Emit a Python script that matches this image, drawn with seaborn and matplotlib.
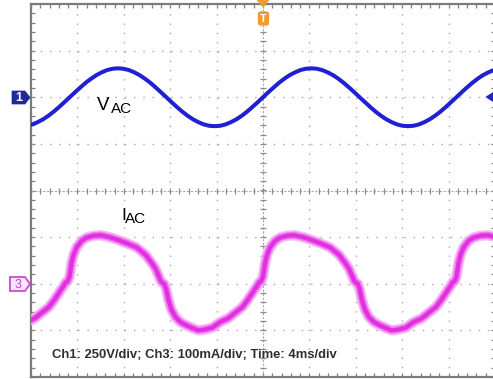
import numpy as np
import pandas as pd
import matplotlib
matplotlib.use("Agg")
import matplotlib.pyplot as plt
import seaborn as sns
from matplotlib.ticker import MultipleLocator
from matplotlib.patches import Polygon, FancyBboxPatch

sns.set_style("white")
plt.rcParams['font.family'] = ['Liberation Sans', 'DejaVu Sans']

# ---------------- data ----------------
# Ch1: line voltage VAC (V), time in ms (trigger at 0)
t_vac = [-20.37, -19.91, -19.44, -18.98, -18.52, -18.06, -17.59, -17.13, -16.67, -16.20,
         -15.74, -15.28, -14.81, -14.35, -13.89, -13.43, -12.96, -12.50, -12.04, -11.57,
         -11.11, -10.65, -10.19, -9.72, -9.26, -8.80, -8.33, -7.87, -7.41, -6.94,
         -6.48, -6.02, -5.56, -5.09, -4.63, -4.17, -3.70, -3.24, -2.78, -2.31,
         -1.85, -1.39, -0.93, -0.46, 0.00, 0.46, 0.93, 1.39, 1.85, 2.31,
         2.78, 3.24, 3.70, 4.17, 4.63, 5.09, 5.56, 6.02, 6.48, 6.94,
         7.41, 7.87, 8.33, 8.80, 9.26, 9.72, 10.19, 10.65, 11.11, 11.57,
         12.04, 12.50, 12.96, 13.43, 13.89, 14.35, 14.81, 15.28, 15.74, 16.20,
         16.67, 17.13, 17.59, 18.06, 18.52, 18.98, 19.44, 19.91, 20.37]
v_ac = [-153, -146, -134, -119, -100, -78, -53, -27,
        0, 27, 53, 78, 100, 119, 134, 146, 153, 155, 153, 146, 134, 119, 100, 78, 53, 27,
        0, -27, -53, -78, -100, -119, -134, -146, -153, -155, -153, -146, -134, -119, -100, -78, -53, -27,
        0, 27, 53, 78, 100, 119, 134, 146, 153, 155, 153, 146, 134, 119, 100, 78, 53, 27,
        0, -27, -53, -78, -100, -119, -134, -146, -153, -155, -153, -146, -134, -119, -100, -78, -53, -27,
        0, 27, 53, 78, 100, 119, 134, 146, 153]

# Ch3: line current IAC (mA)
t_iac = [-20.36, -19.67, -19.07, -18.46, -18.03, -17.60, -17.34, -17.19,
         -17.02, -16.85, -16.68, -16.50, -16.33, -16.07, -15.64, -15.21, -14.61, -14.00,
         -13.23, -12.62, -11.76, -10.90, -10.12, -9.61, -9.26, -9.00, -8.83,
         -8.68, -8.51, -8.34, -8.16, -7.90, -7.56, -7.13, -6.70, -6.09, -5.58,
         -4.97, -4.37, -3.68, -2.99, -2.39, -1.78, -1.35, -0.92, -0.66, -0.51,
         -0.34, -0.17, 0.00, 0.18, 0.35, 0.61, 1.04, 1.47, 2.07, 2.68,
         3.45, 4.06, 4.92, 5.78, 6.56, 7.07, 7.42, 7.68, 7.85,
         8.00, 8.17, 8.34, 8.52, 8.78, 9.12, 9.55, 9.98, 10.59, 11.10,
         11.71, 12.31, 13.00, 13.69, 14.29, 14.90, 15.33, 15.76, 16.02, 16.17,
         16.34, 16.51, 16.68, 16.86, 17.03, 17.29, 17.72, 18.15, 18.75, 19.36, 20.13]
i_ac = [-82, -74, -62, -50, -36, -20, -10, -5,
        3, 5, 15, 45, 62, 78, 92, 99, 103, 104, 100, 95, 87, 78, 62, 45, 32, 17, 7,
        2, 0, -12, -34, -55, -71, -82, -88, -95, -100, -98, -94, -82, -74, -62, -50, -36, -20, -10, -5,
        3, 5, 15, 45, 62, 78, 92, 99, 103, 104, 100, 95, 87, 78, 62, 45, 32, 17, 7,
        2, 0, -12, -34, -55, -71, -82, -88, -95, -100, -98, -94, -82, -74, -62, -50, -36, -20, -10, -5,
        3, 5, 15, 45, 62, 78, 92, 99, 103, 104, 100]

ch1_scale, ch1_pos = 250.0, 2.0      # V/div, divisions
ch3_scale, ch3_pos = 100.0, -2.0     # mA/div, divisions
time_per_div = 4.0                   # ms/div
info_text = "Ch1: 250V/div; Ch3: 100mA/div; Time: 4ms/div"

df_v = pd.DataFrame({"t": t_vac, "y": np.array(v_ac) / ch1_scale + ch1_pos})
df_i = pd.DataFrame({"t": t_iac, "y": np.array(i_ac) / ch3_scale + ch3_pos})

# ---------------- figure ----------------
W, H = 493, 379
fig = plt.figure(figsize=(W / 100, H / 100), dpi=100)
fig.patch.set_facecolor("white")
ax = fig.add_axes([31 / W, 2 / H, 464 / W, 373 / H])
ax.set_xlim(-5 * time_per_div, 5 * time_per_div)
ax.set_ylim(-4, 4)

grid_c = "#a8a8a8"
for gx in [-16, -12, -8, -4, 4, 8, 12, 16]:
    ax.axvline(gx, color=grid_c, lw=1.0, linestyle=(0, (1, 5.68)), zorder=1)
for gy in [-3, -2, -1, 1, 2, 3]:
    ax.axhline(gy, color=grid_c, lw=1.0, linestyle=(0, (1, 5.71)), zorder=1)
# centre cross with minor ticks
ax.axhline(0, color=grid_c, lw=0.8, linestyle=(0, (2, 1.5)), zorder=1)
ax.axvline(0, color=grid_c, lw=0.8, linestyle=(0, (2, 1.5)), zorder=1)
xm = np.arange(-20, 20.01, 0.8)
ym = np.arange(-4, 4.01, 0.2)
ax.plot(xm, np.zeros_like(xm), ls="none", marker="|", ms=4, mew=0.9, mec="#8a8a8a", zorder=1)
ax.plot(np.zeros_like(ym), ym, ls="none", marker="_", ms=4, mew=0.9, mec="#8a8a8a", zorder=1)

# traces
sns.lineplot(data=df_v, x="t", y="y", ax=ax, color="#2020d2", lw=2.9,
             sort=False, estimator=None, zorder=4)
sns.lineplot(data=df_i, x="t", y="y", ax=ax, color="#f6b4f6", lw=7.5, alpha=0.9,
             sort=False, estimator=None, zorder=3)
sns.lineplot(data=df_i, x="t", y="y", ax=ax, color="#ee72ee", lw=5.2, alpha=0.9,
             sort=False, estimator=None, zorder=3)
sns.lineplot(data=df_i, x="t", y="y", ax=ax, color="#e030e0", lw=3.0,
             sort=False, estimator=None, zorder=3)

ax.set_xlabel(""); ax.set_ylabel("")
ax.xaxis.set_major_locator(MultipleLocator(time_per_div))
ax.xaxis.set_minor_locator(MultipleLocator(time_per_div / 5))
ax.yaxis.set_major_locator(MultipleLocator(1))
ax.yaxis.set_minor_locator(MultipleLocator(0.2))
ax.tick_params(which="both", direction="in", length=3, width=0.9, color="#808080",
               top=True, right=True, bottom=True, left=True,
               labelbottom=False, labelleft=False)
for s in ax.spines.values():
    s.set_color("#7c7c7c")
    s.set_linewidth(1.6)
    s.set_visible(True)

# ---------------- scope markers (figure pixel coords) ----------------
def P(x, y):
    return (x / W, 1 - y / H)

def poly(pts, **kw):
    fig.patches.append(Polygon([P(*p) for p in pts], closed=True,
                               transform=fig.transFigure, **kw))

poly([(12, 91), (25, 91), (30, 97.5), (25, 104), (12, 104)], facecolor="#1f2a9c", edgecolor="#1f2a9c", lw=0.5)
fig.text(*P(18.5, 98), "1", color="white", fontsize=9, weight="bold", ha="center", va="center")

poly([(10, 277), (25, 277), (30, 284), (25, 291), (10, 291)], facecolor="#fce8fc", edgecolor="#d246d2", lw=1.3)
fig.text(*P(18, 284.5), "3", color="#c83cc8", fontsize=9, ha="center", va="center")

poly([(257, 0), (269, 0), (263, 7)], facecolor="#f29a2e", edgecolor="#f29a2e", lw=0.5)
fig.patches.append(FancyBboxPatch(P(258.5, 25), 10 / W, 13 / H, boxstyle="round,pad=0,rounding_size=0.005",
                                  transform=fig.transFigure, facecolor="#f29a2e", edgecolor="#f29a2e"))
fig.text(*P(263.5, 18.5), "T", color="white", fontsize=8, weight="bold", ha="center", va="center")

poly([(486, 97), (493, 92.5), (493, 101.5)], facecolor="#2222c0", edgecolor="#2222c0", lw=0.5)

# ---------------- labels ----------------
fig.text(*P(97, 110), "V", fontsize=13.5, color="black", va="baseline")
fig.text(*P(110.5, 113), "AC", fontsize=11, color="black", va="baseline")
fig.text(*P(121, 220), "I", fontsize=12.5, color="black", va="baseline")
fig.text(*P(125, 223), "AC", fontsize=11, color="black", va="baseline")
fig.text(*P(52, 355), info_text, fontsize=9.4, weight="bold", color="#2e2e2e", va="center")

fig.savefig("out.png", dpi=100, facecolor="white")
